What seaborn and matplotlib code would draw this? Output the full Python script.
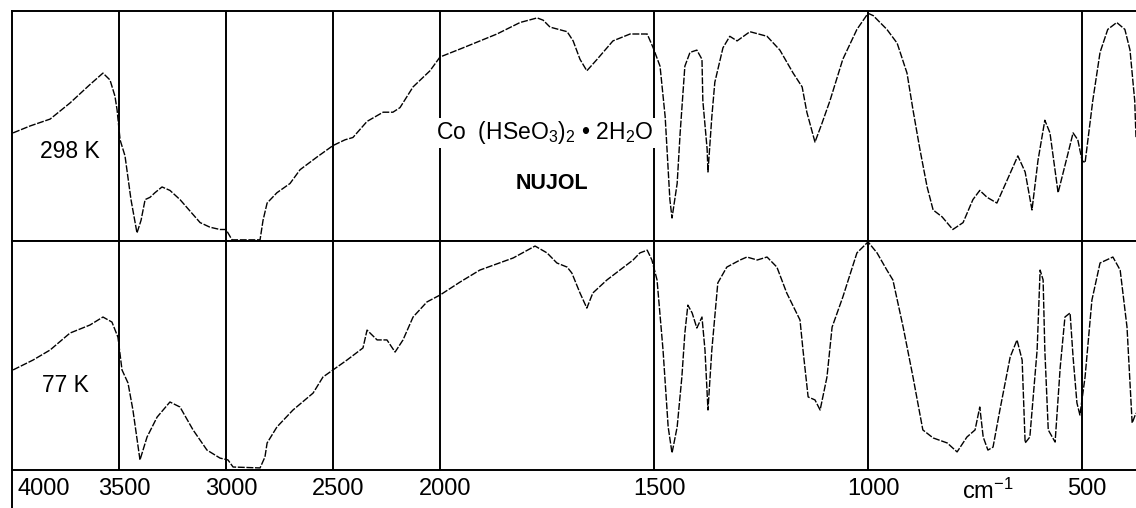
import numpy as np
import matplotlib
import matplotlib.pyplot as plt
import matplotlib.transforms as mtransforms
import seaborn as sns

matplotlib.use("Agg")

# IR spectrum of Co(HSeO3)2.2H2O in nujol
# 298 K trace: wavenumber (cm-1) and transmittance (%)
wn_298 = [3995, 3916, 3822, 3729, 3636, 3575, 3542, 3519, 3509, 3495,
          3472, 3444, 3416, 3397, 3378, 3355, 3332, 3299, 3262, 3215,
          3168, 3121, 3075, 3028, 3000, 2972, 2911, 2841, 2827, 2808,
          2762, 2701, 2654, 2575, 2500, 2444, 2407, 2341, 2266, 2220,
          2187, 2126, 2047, 2000, 1946, 1867, 1813, 1773, 1759, 1743,
          1703, 1689, 1673, 1657, 1633, 1596, 1556, 1516, 1502, 1486,
          1474, 1463, 1458, 1446, 1439, 1428, 1416, 1400, 1388, 1386,
          1376, 1374, 1365, 1358, 1339, 1323, 1306, 1276, 1236, 1206,
          1175, 1154, 1143, 1124, 1108, 1089, 1059, 1026, 1000, 988,
          956, 932, 909, 895, 879, 862, 848, 827, 802, 778,
          755, 739, 722, 699, 675, 650, 633, 617, 603, 587,
          575, 556, 535, 521, 510, 500, 493, 475, 458, 440,
          419, 400, 388, 377, 374]
T_298 = [47, 50, 53, 60, 68, 73, 70, 63, 57, 44,
         37, 18, 3.5, 9, 18, 19, 21, 23.5, 22, 18,
         13, 8, 6, 5, 5, 0.5, 0.5, 0.5, 9, 16.5,
         21, 25, 31, 36.5, 41.5, 44, 45, 52, 56, 56,
         58, 67, 74, 80, 84, 90, 95, 97, 96, 93,
         91, 87, 79, 74, 79, 87, 90, 90, 84, 76,
         54, 18, 10, 25, 47, 76, 82, 83, 79, 61,
         40, 30, 54, 69, 84, 89, 87, 91, 89, 83,
         73, 67, 56, 43, 51, 61, 79, 92, 99, 98,
         92, 86, 73, 57, 40, 23.5, 13.5, 10.5, 5, 8,
         18, 22, 19, 16.5, 26.5, 37, 30, 13.5, 35, 52.5,
         47, 21, 36.5, 47, 44, 35, 34, 61, 82, 92,
         95, 92, 83, 61, 45]

# 77 K trace
wn_77 = [3995, 3902, 3822, 3729, 3636, 3575, 3533, 3505, 3486, 3458,
         3435, 3402, 3369, 3322, 3262, 3215, 3154, 3089, 3028, 2991,
         2967, 2841, 2818, 2808, 2762, 2687, 2593, 2547, 2500, 2435,
         2360, 2341, 2294, 2248, 2210, 2173, 2126, 2061, 2000, 1953,
         1907, 1829, 1778, 1750, 1727, 1703, 1692, 1673, 1657, 1643,
         1610, 1580, 1549, 1533, 1516, 1505, 1493, 1479, 1467, 1458,
         1446, 1435, 1428, 1421, 1411, 1400, 1388, 1381, 1374, 1365,
         1358, 1351, 1330, 1299, 1283, 1259, 1236, 1213, 1190, 1159,
         1152, 1140, 1124, 1112, 1096, 1084, 1059, 1026, 1000, 979,
         956, 942, 918, 895, 872, 848, 815, 792, 769, 750,
         739, 731, 720, 708, 692, 668, 652, 640, 633, 622,
         605, 598, 591, 587, 579, 563, 551, 540, 528, 521,
         512, 505, 493, 477, 458, 428, 411, 395, 383, 374]
T_77 = [43.7, 48, 52.4, 59.8, 63.3, 66.8, 64.6, 58, 43.7, 38,
        26.2, 4.4, 14.4, 23.1, 29.7, 27.5, 17.5, 8.7, 5.2, 4.4,
        1.3, 0.9, 5.7, 11.8, 18.8, 26.2, 33.6, 40.6, 43.7, 48,
        53.3, 61.1, 56.8, 56.8, 51.5, 56.8, 66.8, 73.4, 76.4, 82.1,
        87.3, 92.6, 97.8, 94.8, 90.4, 88.6, 86, 77.3, 70.7, 77.3,
        83, 87.3, 91.7, 94.8, 96, 91.7, 83, 52.4, 18.8, 7.4,
        18.8, 40.6, 59.8, 72, 68.6, 62, 66.8, 52.4, 26.2, 52.4,
        66.8, 81.7, 88.6, 91.7, 93, 91.7, 93, 88.6, 77.3, 65.5,
        52.4, 31.9, 30.6, 26.2, 40.6, 62.4, 75.5, 94.8, 99.6, 94.8,
        87.3, 83, 62.4, 40.6, 17.5, 14, 11.8, 7.9, 14.4, 17.5,
        27.5, 14.4, 8.7, 10, 26.2, 49.3, 56.8, 48, 11.8, 14.4,
        52.4, 87.3, 83, 52.4, 17.5, 12.2, 45, 66.8, 68.6, 49.3,
        29.3, 24, 40.6, 74.2, 90.4, 93, 87.3, 62.4, 20.5, 24.9]

grid_wn = [3500, 3000, 2500, 2000, 1500, 1000, 500]
tick_wn = [4000, 3500, 3000, 2500, 2000, 1500, 1000, 500]
tick_labels = ["4000", "3500", "3000", "2500", "2000", "1500", "1000", "500"]

sns.set_style("white")
plt.rcParams["font.family"] = ["Liberation Sans", "DejaVu Sans"]
plt.rcParams["mathtext.fontset"] = "custom"
plt.rcParams["mathtext.rm"] = "Liberation Sans"
plt.rcParams["mathtext.it"] = "Liberation Sans:italic"
plt.rcParams["mathtext.bf"] = "Liberation Sans:bold"
plt.rcParams["text.color"] = "black"
plt.rcParams["xtick.color"] = "black"


# chart paper: below 2000 cm-1 the scale is doubled
def fwd(w):
    w = np.asarray(w, dtype=float)
    return np.where(w >= 2000, 1000 + w * 0.5, w)


def inv(u):
    u = np.asarray(u, dtype=float)
    return np.where(u >= 2000, (u - 1000) * 2, u)


fig = plt.figure(figsize=(11.36, 5.08), dpi=100)
ax_top = fig.add_axes([12 / 1136, 267 / 508, 1 - 12 / 1136, 230 / 508])
ax_bot = fig.add_axes([12 / 1136, 38 / 508, 1 - 12 / 1136, 229 / 508])

line_kw = dict(color="black", linewidth=1.0, linestyle=(0, (5, 1.2)))
sns.lineplot(x=wn_298, y=T_298, ax=ax_top, estimator=None, sort=False, **line_kw)
sns.lineplot(x=wn_77, y=T_77, ax=ax_bot, estimator=None, sort=False, **line_kw)

for ax in (ax_top, ax_bot):
    ax.set_xscale("function", functions=(fwd, inv))
    ax.set_xlim(4000, 374)
    ax.set_ylim(0, 100)
    ax.set_yticks([])
    ax.set_ylabel("")
    ax.spines["right"].set_visible(False)
    for s in ("left", "top", "bottom"):
        ax.spines[s].set_color("black")
        ax.spines[s].set_linewidth(1.4)
    for w in grid_wn:
        ax.axvline(w, color="black", linewidth=1.4)

ax_top.set_xticks([])
ax_bot.set_xticks(tick_wn)
ax_bot.set_xticklabels(tick_labels, fontsize=17)
ax_bot.tick_params(axis="x", length=0, pad=6)
shift = mtransforms.ScaledTranslation(5 / 100, 0, fig.dpi_scale_trans)
for i, lab in enumerate(ax_bot.get_xticklabels()):
    lab.set_transform(lab.get_transform() + shift)
    if i == 0:
        lab.set_horizontalalignment("left")

ax_bot.text(720, -0.095, "cm$^{-1}$", transform=ax_bot.get_xaxis_transform(),
            ha="center", va="center", fontsize=17)
# left edge of the chart paper runs on below the axis
ax_bot.plot([0, 0], [0, -0.17], transform=ax_bot.transAxes, color="black",
            linewidth=1.4, clip_on=False)

ax_top.text(3730, 38.7, "298 K", ha="center", va="center", fontsize=16.5)
ax_bot.text(3752, 37, "77 K", ha="center", va="center", fontsize=16.5)
ax_top.text(1755, 47, r"Co  (HSeO$_3$)$_2$ • 2H$_2$O", ha="center", va="center",
            fontsize=16.5, zorder=5,
            bbox=dict(facecolor="white", edgecolor="none", pad=1))
ax_top.text(1738, 24.8, "NUJOL", ha="center", va="center", fontsize=15.5,
            fontweight="bold")

plt.savefig("out.png", dpi=100)
